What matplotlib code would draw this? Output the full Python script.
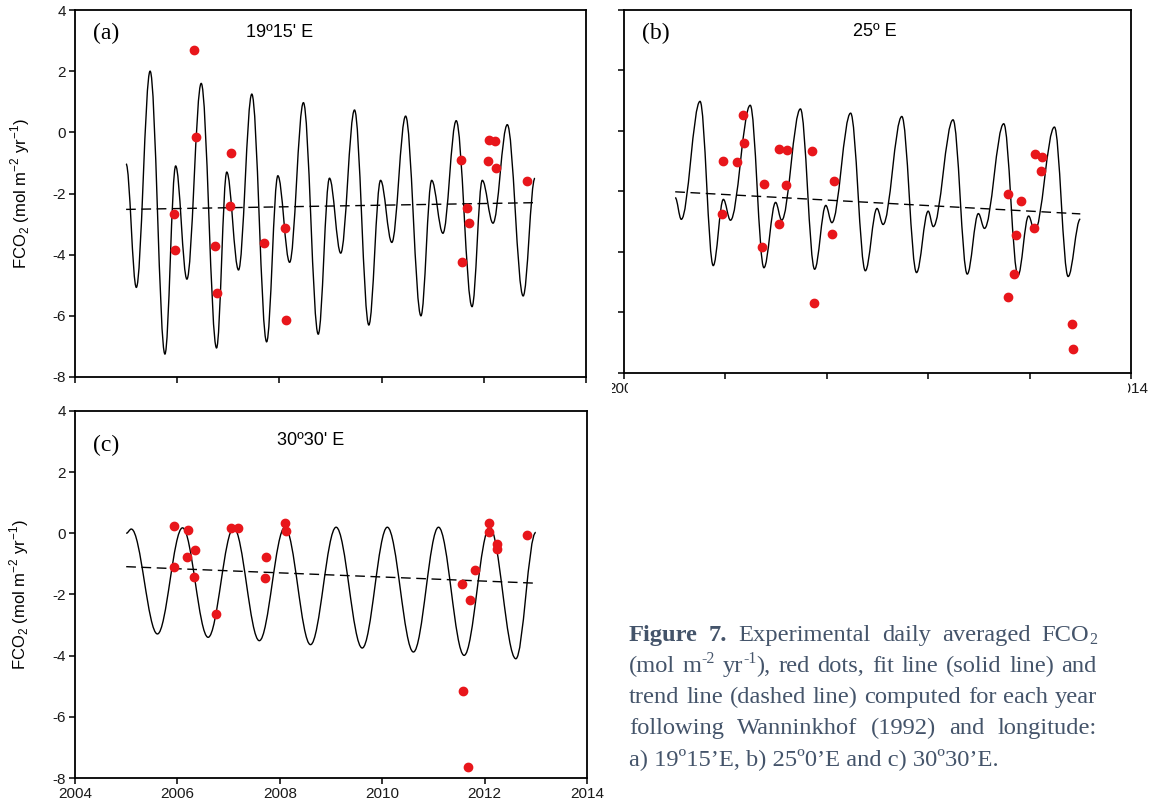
import matplotlib
matplotlib.use("Agg")
import matplotlib.pyplot as plt
from matplotlib.path import Path
from matplotlib.patches import PathPatch
from matplotlib.transforms import Bbox, TransformedBbox

plt.rcParams['font.family'] = ['Liberation Sans', 'DejaVu Sans']
plt.rcParams['axes.unicode_minus'] = False

# fit line (a): extrema of the solid curve
a_fit_x = [2005.0, 2005.2, 2005.47, 2005.76, 2005.97, 2006.19, 2006.47, 2006.77, 2006.97,
           2007.2, 2007.46, 2007.75, 2007.97, 2008.2, 2008.47, 2008.76, 2008.98, 2009.2,
           2009.47, 2009.75, 2009.98, 2010.2, 2010.47, 2010.77, 2010.98, 2011.2, 2011.46,
           2011.77, 2011.97, 2012.18, 2012.46, 2012.77, 2013.0]
a_fit_y = [-1.03, -5.07, 2.0, -7.25, -1.1, -4.8, 1.6, -7.05, -1.3,
           -4.5, 1.25, -6.85, -1.42, -4.25, 0.97, -6.6, -1.5, -3.95,
           0.73, -6.3, -1.57, -3.6, 0.53, -6.0, -1.57, -3.3, 0.38,
           -5.7, -1.57, -2.97, 0.25, -5.35, -1.5]
a_trend_x = [2005.0, 2013.0]
a_trend_y = [-2.52, -2.3]
a_obs_x = [2006.33, 2006.36, 2005.93, 2005.96, 2006.73, 2006.77, 2007.06, 2007.04, 2007.70,
           2008.10, 2008.13, 2011.55, 2011.68, 2011.72, 2011.58, 2012.10, 2012.22, 2012.09,
           2012.24, 2012.84]
a_obs_y = [2.68, -0.15, -2.66, -3.86, -3.72, -5.26, -0.67, -2.42, -3.62,
           -3.12, -6.13, -0.89, -2.47, -2.97, -4.24, -0.26, -0.29, -0.95,
           -1.16, -1.58]

# fit line (b)
b_fit_x = [2005.01, 2005.13, 2005.5, 2005.76, 2005.96, 2006.1, 2006.49, 2006.76, 2006.99,
           2007.11, 2007.48, 2007.76, 2007.98, 2008.1, 2008.47, 2008.76, 2008.99, 2009.11,
           2009.48, 2009.77, 2010.0, 2010.1, 2010.49, 2010.77, 2010.99, 2011.11, 2011.49,
           2011.77, 2011.98, 2012.1, 2012.49, 2012.76, 2013.0]
b_fit_y = [-2.2, -2.92, 0.98, -4.45, -2.26, -2.95, 0.85, -4.52, -2.36,
           -2.95, 0.73, -4.57, -2.46, -3.03, 0.59, -4.62, -2.56, -3.09,
           0.48, -4.68, -2.65, -3.16, 0.37, -4.73, -2.73, -3.22, 0.24,
           -4.78, -2.81, -3.31, 0.13, -4.81, -2.91]
b_trend_x = [2005.01, 2013.0]
b_trend_y = [-2.01, -2.74]
b_obs_x = [2006.34, 2006.36, 2005.95, 2006.23, 2005.93, 2006.77, 2006.73, 2007.06, 2007.22,
           2007.19, 2007.05, 2007.71, 2007.74, 2008.14, 2008.11, 2011.58, 2011.83, 2011.73,
           2011.70, 2011.57, 2012.11, 2012.25, 2012.23, 2012.09, 2012.83, 2012.85]
b_obs_y = [0.52, -0.40, -0.98, -1.04, -2.73, -1.76, -3.82, -0.60, -0.62,
           -1.79, -3.07, -0.67, -5.69, -1.65, -3.42, -2.07, -2.31, -3.44,
           -4.73, -5.49, -0.76, -0.86, -1.33, -3.22, -6.37, -7.20]

# fit line (c)
c_fit_x = [2005.0, 2005.1, 2005.61, 2006.1, 2006.6, 2007.1, 2007.6, 2008.1, 2008.6,
           2009.1, 2009.61, 2010.1, 2010.61, 2011.1, 2011.6, 2012.1, 2012.61, 2013.0]
c_fit_y = [0.0, 0.14, -3.29, 0.18, -3.4, 0.18, -3.51, 0.2, -3.64,
           0.2, -3.75, 0.2, -3.88, 0.2, -3.99, 0.2, -4.1, 0.03]
c_trend_x = [2005.0, 2013.0]
c_trend_y = [-1.09, -1.63]
c_obs_x = [2005.94, 2005.93, 2006.21, 2006.19, 2006.35, 2006.33, 2006.75, 2007.04, 2007.19,
           2007.73, 2007.71, 2008.11, 2008.13, 2011.56, 2011.82, 2011.71, 2011.57, 2011.68,
           2012.09, 2012.09, 2012.24, 2012.24, 2012.83]
c_obs_y = [0.25, -1.09, 0.10, -0.76, -0.54, -1.42, -2.65, 0.19, 0.16,
           -0.78, -1.46, 0.34, 0.09, -1.66, -1.20, -2.18, -5.14, -7.65,
           0.34, 0.05, -0.35, -0.50, -0.05]

x_ticks = [2004, 2006, 2008, 2010, 2012, 2014]
y_ticks = [4, 2, 0, -2, -4, -6, -8]
titles = ["19º15' E", "25º E", "30º30' E"]
letters = ["(a)", "(b)", "(c)"]
ylab = r"FCO$_\mathregular{2}$ (mol m$^\mathregular{-2}$ yr$^\mathregular{-1}$)"

# caption words; each word is a list of pieces (text, bold, shift) with shift 0/'sup'/'sub'
caption = [
    [[("Figure", True, 0)], [("7.", True, 0)], [("Experimental", False, 0)],
     [("daily", False, 0)], [("averaged", False, 0)], [("FCO", False, 0), ("2", False, 'sub')]],
    [[("(mol", False, 0)], [("m", False, 0), ("-2", False, 'sup')],
     [("yr", False, 0), ("-1", False, 'sup'), ("),", False, 0)],
     [("red", False, 0)], [("dots,", False, 0)], [("fit", False, 0)], [("line", False, 0)],
     [("(solid", False, 0)], [("line)", False, 0)], [("and", False, 0)]],
    [[(w, False, 0)] for w in "trend line (dashed line) computed for each year".split()],
    [[(w, False, 0)] for w in "following Wanninkhof (1992) and longitude:".split()],
]
caption_last = "a) 19º15’E, b) 25º0’E and c) 30º30’E."

W, H = 1152, 809
fig = plt.figure(figsize=(W / 100, H / 100), dpi=100)


def fit_path(xs, ys, k=0.363):
    # smooth curve through the read extrema (horizontal tangents)
    verts = [(xs[0], ys[0])]
    codes = [Path.MOVETO]
    for i in range(1, len(xs)):
        dx = xs[i] - xs[i - 1]
        verts += [(xs[i - 1] + k * dx, ys[i - 1]), (xs[i] - k * dx, ys[i]), (xs[i], ys[i])]
        codes += [Path.CURVE4] * 3
    return Path(verts, codes)


def panel(rect, fx, fy, tx, ty, ox, oy, title, letter, letter_y, title_x, title_y):
    ax = fig.add_axes(rect)
    ax.add_patch(PathPatch(fit_path(fx, fy), facecolor='none', edgecolor='black', lw=1.0))
    ax.plot(tx, ty, color='black', lw=1.0, ls=(0, (7, 4)))
    ax.plot(ox, oy, 'o', color='#e8161b', ms=6.0, mec='#e8161b', zorder=5)
    ax.set_xlim(2004, 2014)
    ax.set_ylim(-8, 4)
    ax.set_xticks(x_ticks)
    ax.set_yticks(y_ticks)
    for s in ax.spines.values():
        s.set_linewidth(1.3)
    ax.tick_params(direction='out', length=4, width=1.1, pad=2.5,
                   labelsize=11, labelcolor='#1a1a1a')
    ax.text(0.036, letter_y, letter, transform=ax.transAxes, fontsize=17,
            family=['Liberation Serif', 'DejaVu Serif'], va='center', ha='left')
    ax.text(title_x, title_y, title, transform=ax.transAxes, fontsize=13,
            va='center', ha='center')
    return ax


ax_a = panel([75 / W, 1 - 377 / H, 511 / W, 367 / H], a_fit_x, a_fit_y, a_trend_x, a_trend_y,
             a_obs_x, a_obs_y, titles[0], letters[0], 0.935, 0.40, 0.94)
ax_a.tick_params(labelbottom=False)
ax_a.set_ylabel(ylab, fontsize=12)
ax_a.yaxis.set_label_coords(-0.085, 0.5)

ax_b = panel([624 / W, 1 - 373 / H, 507 / W, 363 / H], b_fit_x, b_fit_y, b_trend_x, b_trend_y,
             b_obs_x, b_obs_y, titles[1], letters[1], 0.935, 0.495, 0.94)
ax_b.set_xticklabels(['2004', '', '', '', '', '2014'])
ax_b.tick_params(labelleft=False)

ax_c = panel([75 / W, 1 - 778 / H, 512 / W, 367 / H], c_fit_x, c_fit_y, c_trend_x, c_trend_y,
             c_obs_x, c_obs_y, titles[2], letters[2], 0.907, 0.46, 0.92)
ax_c.set_ylabel(ylab, fontsize=12)
ax_c.yaxis.set_label_coords(-0.085, 0.5)

# the (b) year labels are cut off in the original
fig.canvas.draw()
b_labels = ax_b.get_xticklabels()
for lab, (x0, x1) in zip([b_labels[0], b_labels[-1]], [(612, 628), (1128, 1152)]):
    lab.set_clip_box(TransformedBbox(Bbox.from_extents(x0 / W, 0, x1 / W, 1), fig.transFigure))
    lab.set_clip_on(True)

# justified caption
renderer = fig.canvas.get_renderer()
cap_color = '#44546a'
serif = ['Liberation Serif', 'DejaVu Serif']
left, right = 629, 1097
probe = fig.text(0, 0, caption_last, fontsize=10, family=serif)
cap_size = 10 * 369 / probe.get_window_extent(renderer).width
probe.remove()
px_per_pt = 100 / 72
line_y = [641, 672, 703, 734, 765]
for words, yb in zip(caption, line_y):
    placed = []
    widths = []
    for word in words:
        pieces = []
        wsum = 0
        for txt, bold, shift in word:
            size = cap_size * (0.65 if shift else 1.0)
            dy = {0: 0, 'sup': 0.38, 'sub': -0.14}[shift] * cap_size * px_per_pt
            t = fig.text(0, (H - yb + dy) / H, txt, fontsize=size, family=serif,
                         color=cap_color, fontweight='bold' if bold else 'normal',
                         va='baseline', ha='left')
            wd = t.get_window_extent(renderer).width
            pieces.append((t, wsum))
            wsum += wd
        placed.append(pieces)
        widths.append(wsum)
    gap = (right - left - sum(widths)) / (len(words) - 1)
    x = left
    for pieces, wd in zip(placed, widths):
        for t, off in pieces:
            t.set_x((x + off) / W)
        x += wd + gap
fig.text(left / W, 1 - line_y[-1] / H, caption_last, fontsize=cap_size, family=serif,
         color=cap_color, va='baseline', ha='left')

fig.savefig("out.png", dpi=100)
